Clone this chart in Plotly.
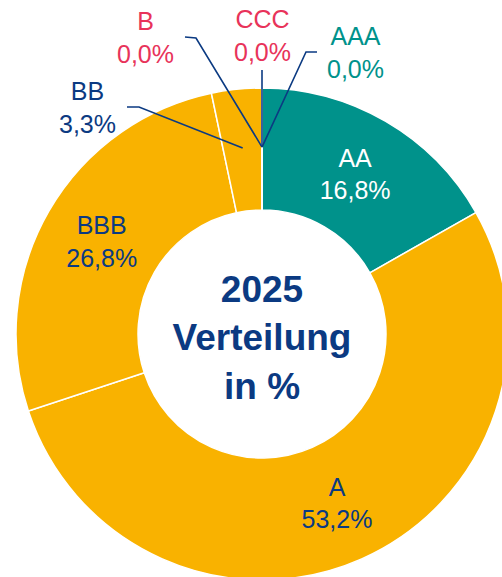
import math
import plotly.graph_objects as go

# ---- data ----
labels = ["AAA", "AA", "A", "BBB", "BB", "B", "CCC"]
values = [0.0, 16.8, 53.2, 26.8, 3.3, 0.0, 0.0]
pct_labels = ["0,0%", "16,8%", "53,2%", "26,8%", "3,3%", "0,0%", "0,0%"]
center_title = "2025<br>Verteilung<br>in %"

# ---- style ----
TEAL = "#00928B"
YELLOW = "#F9B200"
NAVY = "#0B3A82"
PINK = "#E8335A"
slice_colors = [TEAL, TEAL, YELLOW, YELLOW, YELLOW, YELLOW, YELLOW]
inside_colors = ["white", "white", NAVY, NAVY, NAVY, NAVY, NAVY]
FONT = "Liberation Sans, Arial, sans-serif"
LABEL_SIZE = 25

W, H = 600, 700          # figure larger than the window -> donut is cut off like the reference
OFF = 0                  # body margin removed in post_script
CX, CY, R = 262, 334, 246  # page-pixel geometry of the donut
HOLE = 0.504


def px(x):
    return (x - OFF) / W


def py(y):
    return 1 - (y - OFF) / H


inside = [v >= 5 for v in values]
texts = [f"{l}<br>{p}" if ins else "" for l, p, ins in zip(labels, pct_labels, inside)]

fig = go.Figure(go.Pie(
    labels=labels, values=values, text=texts, textinfo="text",
    textposition="inside", insidetextorientation="horizontal",
    sort=False, direction="clockwise", rotation=0, hole=HOLE,
    marker=dict(colors=slice_colors, line=dict(color="white", width=1.5)),
    textfont=dict(family=FONT, size=LABEL_SIZE, color=inside_colors),
    hoverinfo="label+percent", showlegend=False,
    domain=dict(x=[px(CX - R), px(CX + R)], y=[py(CY + R), py(CY - R)]),
    title=dict(text=f"<b>{center_title}</b>", position="middle center",
               font=dict(family=FONT, size=37, color=NAVY)),
))

# outside labels for small slices, with leader lines to the middle of the ring
total = sum(values)
cum = 0.0
mids = []
for v in values:
    mids.append((cum + v / 2) / total * 2 * math.pi)
    cum += v
rmid = 0.76 * R

outside = {
    # label: (label centre px, line start px, elbow px, color)
    "AAA": ((355, 52), (317, 52), (306, 52), TEAL),
    "CCC": ((262, 36), (262, 70), (262, 70), PINK),
    "B": ((145, 38), (185, 37), (196, 38), PINK),
    "BB": ((87, 108), (127, 107), (139, 107), NAVY),
}
shapes = []
annotations = []
for i, lab in enumerate(labels):
    if lab not in outside:
        continue
    (lx, ly), (sx, sy), (ex, ey), col = outside[lab]
    a = mids[i] if values[i] > 0 else 0.0
    tx = CX + rmid * math.sin(a)
    ty = CY - rmid * math.cos(a)
    path = f"M {px(sx)} {py(sy)} L {px(ex)} {py(ey)} L {px(tx)} {py(ty)}"
    shapes.append(dict(type="path", xref="paper", yref="paper", path=path,
                       line=dict(color=NAVY, width=1.6)))
    annotations.append(dict(x=px(lx), y=py(ly), xref="paper", yref="paper",
                            text=f"{lab}<br>{pct_labels[i]}", showarrow=False,
                            xanchor="center", yanchor="middle", align="center",
                            font=dict(family=FONT, size=LABEL_SIZE, color=col)))

fig.update_layout(
    width=W, height=H, margin=dict(l=0, r=0, t=0, b=0),
    paper_bgcolor="white", plot_bgcolor="white",
    shapes=shapes, annotations=annotations,
)

post = (
    "document.documentElement.style.overflow='hidden';"
    "document.body.style.overflow='hidden';"
    "document.body.style.margin='0';"
    "var g=document.getElementById('{plot_id}');"
    "g.parentElement.style.cssText='width:502px;height:577px;overflow:hidden;';"
)
fig.write_html("out.html", post_script=post)
